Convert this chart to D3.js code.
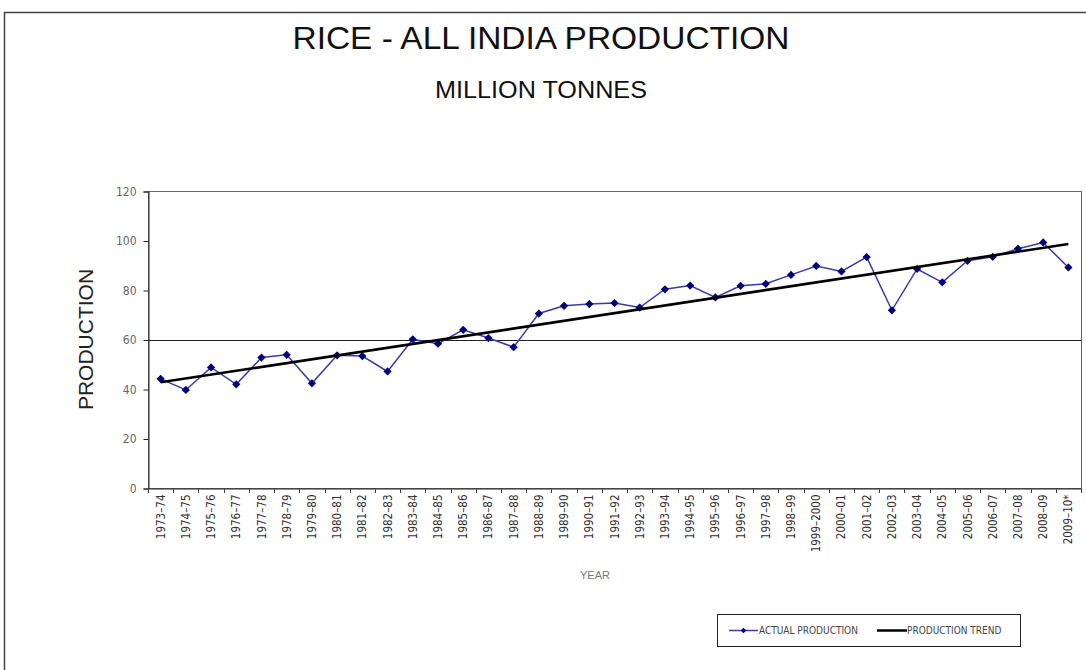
<!DOCTYPE html>
<html>
<head>
<meta charset="utf-8">
<script src="https://cdn.jsdelivr.net/npm/d3@7"></script>
<style>
  body { margin: 0; background: #fff; }
  svg { display: block; font-family: "Liberation Sans", Arial, sans-serif; }
</style>
</head>
<body>
<svg id="chart" width="1086" height="670"></svg>
<script>
// ---- data ----
const years = ["1973–74","1974–75","1975–76","1976–77","1977–78","1978–79","1979–80","1980–81","1981–82","1982–83","1983–84","1984–85","1985–86","1986–87","1987–88","1988–89","1989–90","1990–91","1991–92","1992–93","1993–94","1994–95","1995–96","1996–97","1997–98","1998–99","1999–2000","2000–01","2001–02","2002–03","2003–04","2004–05","2005–06","2006–07","2007–08","2008–09","2009–10*"];
const production = [44.1,39.6,48.7,41.9,52.7,53.8,42.3,53.6,53.3,47.1,60.1,58.3,63.9,60.6,56.9,70.5,73.6,74.3,74.7,72.9,80.3,81.8,77.0,81.7,82.5,86.1,89.7,87.5,93.3,71.8,88.5,83.1,91.8,93.4,96.7,99.2,89.1];
const trendEnds = [42.7, 98.6]; // trend line value at first and last year
const yTicks = [0,20,40,60,80,100,120];
const refLine = [60];

// ---- layout ----
const svg = d3.select("#chart");
const L = 148, R = 1081, T = 191, B = 488;

const x = d3.scaleBand().domain(years).range([L, R]).paddingInner(0).paddingOuter(0);
const y = d3.scaleLinear().domain([0, 120]).range([B, T]);
const cx = d => x(d) + x.bandwidth() / 2;

// outer frame
svg.append("line").attr("x1", 4).attr("x2", 1086).attr("y1", 12.5).attr("y2", 12.5).attr("stroke", "#444").attr("stroke-width", 1.5);
svg.append("line").attr("x1", 4.5).attr("x2", 4.5).attr("y1", 12).attr("y2", 670).attr("stroke", "#444").attr("stroke-width", 1.5);

// titles
svg.append("text").attr("x", 541).attr("y", 49).attr("text-anchor", "middle")
  .attr("font-size", 31).attr("fill", "#111").attr("textLength", 497).attr("lengthAdjust", "spacingAndGlyphs")
  .text("RICE - ALL INDIA PRODUCTION");
svg.append("text").attr("x", 541).attr("y", 98).attr("text-anchor", "middle")
  .attr("font-size", 24).attr("fill", "#111").attr("textLength", 212).attr("lengthAdjust", "spacingAndGlyphs")
  .text("MILLION TONNES");

// plot frame
svg.append("rect").attr("x", L + 0.5).attr("y", T + 0.5).attr("width", R - L).attr("height", B - T)
  .attr("fill", "none").attr("stroke", "#666").attr("stroke-width", 1);

// reference line at 60
svg.selectAll(".ref").data(refLine).enter().append("line")
  .attr("x1", L).attr("x2", R).attr("y1", d => Math.round(y(d)) + 0.5).attr("y2", d => Math.round(y(d)) + 0.5)
  .attr("stroke", "#222").attr("stroke-width", 1);

// y axis
const yAxis = d3.axisLeft(y).tickValues(yTicks).tickSize(5).tickPadding(7).tickFormat(d3.format("d"));
const gy = svg.append("g").attr("transform", `translate(${L + 0.5},0.5)`).call(yAxis);
gy.select(".domain").attr("stroke", "#222");
gy.selectAll(".tick line").attr("stroke", "#222");
gy.selectAll("text").attr("font-size", 12).attr("fill", "#666").attr("font-family", "'DejaVu Sans Condensed', 'Liberation Sans', sans-serif");

// x axis
const xAxis = d3.axisBottom(x).tickSize(0).tickPadding(6);
const gx = svg.append("g").attr("transform", `translate(0,${B + 0.5})`).call(xAxis);
gx.select(".domain").attr("stroke", "#222");
gx.selectAll("text")
  .attr("transform", "rotate(-90)")
  .attr("x", -6).attr("y", 0).attr("dy", "0.35em")
  .attr("text-anchor", "end")
  .attr("font-size", 11.5).attr("fill", "#333")
  .attr("font-family", "'DejaVu Sans Condensed', 'Liberation Sans', sans-serif");
// category separator ticks
svg.append("g").selectAll("line").data(years.concat(["__end"])).enter().append("line")
  .attr("x1", (d, i) => Math.round(L + i * x.bandwidth()) + 0.5)
  .attr("x2", (d, i) => Math.round(L + i * x.bandwidth()) + 0.5)
  .attr("y1", B).attr("y2", B + 5).attr("stroke", "#444");

// axis titles
svg.append("text").attr("transform", `translate(93,${(T + B) / 2}) rotate(-90)`).attr("text-anchor", "middle")
  .attr("font-size", 21).attr("fill", "#222").text("PRODUCTION");
svg.append("text").attr("x", 595).attr("y", 579).attr("text-anchor", "middle")
  .attr("font-size", 11).attr("fill", "#777").text("YEAR");

// actual production line
const line = d3.line().x((d, i) => cx(years[i])).y(d => y(d));
svg.append("path").datum(production).attr("d", line)
  .attr("fill", "none").attr("stroke", "#3a3aa8").attr("stroke-width", 1.5);

// markers (square rotated 45° = Excel-style diamond)
const diamond = d3.symbol().type(d3.symbolSquare).size(34);
svg.append("g").selectAll("path").data(production).enter().append("path")
  .attr("d", diamond)
  .attr("transform", (d, i) => `translate(${cx(years[i])},${y(d)}) rotate(45)`)
  .attr("fill", "#00007a");

// trend line
svg.append("path").datum([[years[0], trendEnds[0]], [years[years.length - 1], trendEnds[1]]])
  .attr("d", d3.line().x(d => cx(d[0])).y(d => y(d[1])))
  .attr("stroke", "#000").attr("stroke-width", 2.6).attr("fill", "none");

// legend
const lg = svg.append("g");
lg.append("rect").attr("x", 717.5).attr("y", 614.5).attr("width", 303).attr("height", 32)
  .attr("fill", "#fff").attr("stroke", "#222").attr("stroke-width", 1);
lg.append("line").attr("x1", 729).attr("x2", 758).attr("y1", 630.5).attr("y2", 630.5).attr("stroke", "#3a3aa8").attr("stroke-width", 1.5);
lg.append("path").attr("d", d3.symbol().type(d3.symbolSquare).size(16)).attr("transform", "translate(743.5,630.5) rotate(45)").attr("fill", "#00007a");
lg.append("text").attr("x", 759).attr("y", 634).attr("font-size", 10).attr("fill", "#444")
  .attr("font-family", "'DejaVu Sans Condensed', 'Liberation Sans', sans-serif").text("ACTUAL  PRODUCTION");
lg.append("line").attr("x1", 877).attr("x2", 907).attr("y1", 630.5).attr("y2", 630.5).attr("stroke", "#000").attr("stroke-width", 2.5);
lg.append("text").attr("x", 907).attr("y", 634).attr("font-size", 10).attr("fill", "#444")
  .attr("font-family", "'DejaVu Sans Condensed', 'Liberation Sans', sans-serif").text("PRODUCTION TREND");
</script>
</body>
</html>
